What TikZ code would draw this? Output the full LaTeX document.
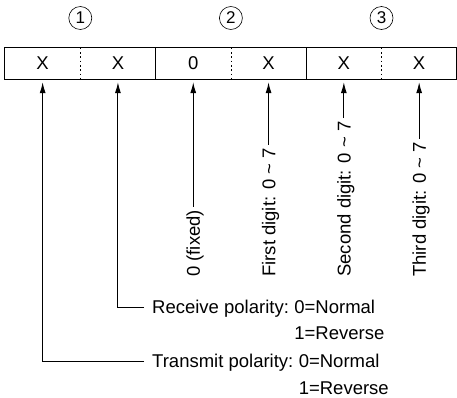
\documentclass[tikz,border=0pt]{standalone}
\usepackage{fontspec}
\setmainfont{Liberation Sans}
\usetikzlibrary{arrows.meta,positioning}

\tikzset{
  cell/.style={minimum width=75.3pt, minimum height=31pt, inner sep=0pt, font=\fontsize{18.5}{22}\selectfont},
  lbl/.style={font=\fontsize{18.5}{22}\selectfont, inner sep=0pt, text depth=0pt, anchor=west},
  vlbl/.style={lbl, rotate=90, inner xsep=3pt},
  num/.style={circle, draw, line width=0.6pt, minimum size=23pt, inner sep=0pt, font=\fontsize{17}{17}\selectfont},
  arr/.style={-{Latex[length=11pt,width=6pt]}, line width=1pt, shorten >=3pt},
}

\begin{document}
\begin{tikzpicture}[x=1pt,y=-1pt]
	\useasboundingbox (0,0) rectangle (457,397);
	% register cells
	\foreach \t [count=\i] in {X,X,0,X,X,X}
		\node[cell] (c\i) at ({5+75.3*(\i-0.5)},63.5) {\t};
	\foreach \i in {1,2,3}
		\node[num] (g\i) at ({5+75.3*(2*\i-1)},18) {\i};
	\draw[line width=1.1pt] (c1.north west) rectangle (c6.south east);
	\foreach \i in {2,4}
		\draw[line width=1.1pt] (c\i.north east) -- (c\i.south east);
	\foreach \i in {1,3,5}
		\draw[line width=0.8pt, dash pattern=on 1.5pt off 2.8pt] (c\i.north east) -- (c\i.south east);
	% digit labels
	\node[vlbl] (fixd) at (c3.south |- 0,280) {0 (fixed)};
	\node[vlbl] (dig1) at (c4.south |- 0,280) {First digit: 0 \textasciitilde{} 7};
	\node[vlbl] (dig2) at (c5.south |- 0,280) {Second digit: 0 \textasciitilde{} 7};
	\node[vlbl] (dig3) at (c6.south |- 0,280) {Third digit: 0 \textasciitilde{} 7};
	\foreach \n/\c in {fixd/c3,dig1/c4,dig2/c5,dig3/c6}
		\draw[arr] (\n.east) -- (\c.south);
	% polarity labels
	\node[lbl] (rcv) at (152,307) {Receive polarity:};
	\node[lbl, right=5pt of rcv] (rcvn) {0=Normal};
	\node[lbl, below=26pt of rcvn.west, anchor=west] (rcvr) {1=Reverse};
	\node[lbl] (trm) at (152,361) {Transmit polarity:};
	\node[lbl, right=5pt of trm] (trmn) {0=Normal};
	\node[lbl, below=27pt of trmn.west, anchor=west] (trmr) {1=Reverse};
	\draw[arr, shorten <=8pt] (rcv.west) -| (c2.south);
	\draw[arr, shorten <=8pt] (trm.west) -| (c1.south);
\end{tikzpicture}
\end{document}
